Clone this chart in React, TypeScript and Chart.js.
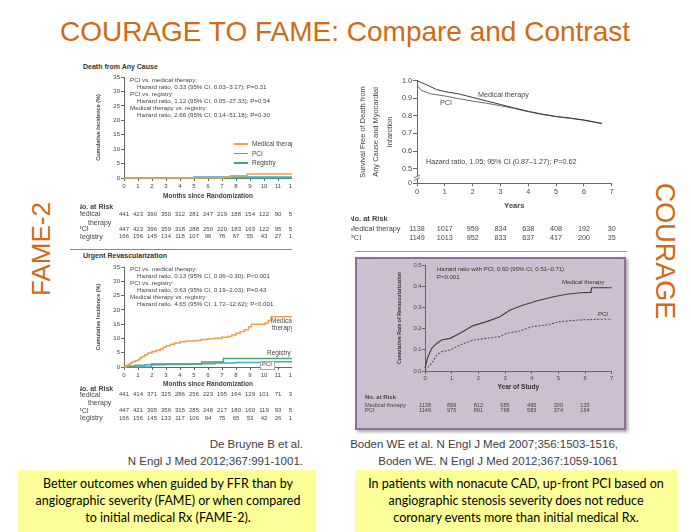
import React, { useEffect, useRef } from 'react';
import { Chart, registerables } from 'chart.js';

Chart.register(...registerables);

// ---------------- DATA ----------------
// FAME-2 shared
const famMonthTicks = [0, 1, 2, 3, 4, 5, 6, 7, 8, 9, 10, 11, 12];
const famPctTicks = [0, 5, 10, 15, 20, 25, 30, 35];

// FAME-2: Death from any cause (cumulative incidence, %)
const deathMedMonths = [0, 7.1, 7.6, 8.8, 12];
const deathMedPct = [0, 0.35, 0.8, 1.35, 1.35];
const deathPciMonths = [0, 5.0, 12];
const deathPciPct = [0, 0.35, 0.35];
const deathRegMonths = [0, 12];
const deathRegPct = [0, 0];
const deathRiskMed = [441, 423, 390, 350, 312, 281, 247, 219, 188, 154, 122, 90, 54];
const deathRiskPci = [447, 423, 396, 359, 318, 288, 250, 220, 183, 163, 122, 95, 54];
const deathRiskReg = [166, 156, 145, 134, 118, 107, 96, 76, 67, 55, 43, 27, 13];

// FAME-2: Urgent revascularization (cumulative incidence, %)
const revMedMonths = [0, 0.15, 0.3, 0.45, 0.6, 0.8, 1.0, 1.15, 1.3, 1.5, 1.7, 2.0, 2.3, 2.6, 2.8, 3.0, 3.3, 3.6, 4.0, 4.4, 5.0, 5.5, 6.0, 6.5, 7.0, 7.4, 7.7, 8.0, 8.3, 8.6, 8.9, 9.1, 10.1, 10.3, 10.5, 12];
const revMedPct = [0, 0.5, 1.0, 1.4, 1.8, 2.2, 2.6, 3.2, 3.7, 4.3, 4.9, 5.4, 5.9, 6.3, 6.9, 7.4, 8.0, 8.4, 8.8, 9.1, 9.3, 9.6, 9.9, 10.1, 10.4, 10.7, 11.2, 11.8, 12.4, 13.0, 14.1, 15.0, 15.4, 16.3, 17.6, 17.6];
const revPciMonths = [0, 0.3, 0.8, 1.5, 3.0, 5.0, 6.5, 8.0, 10.0, 12];
const revPciPct = [0, 0.35, 0.6, 0.8, 1.0, 1.1, 1.4, 1.6, 1.8, 1.8];
const revRegMonths = [0, 1.97, 5.55, 7.1, 12];
const revRegPct = [0, 1.05, 1.75, 3.0, 3.0];
const revRiskMed = [441, 414, 371, 325, 286, 256, 223, 195, 164, 129, 101, 71, 38];
const revRiskPci = [447, 421, 395, 356, 315, 285, 248, 217, 180, 160, 119, 93, 53];
const revRiskReg = [166, 156, 145, 133, 117, 106, 94, 75, 65, 53, 42, 26, 12];

// COURAGE: survival free of death and MI
const survYearTicks = [0, 1, 2, 3, 4, 5, 6, 7];
const survYTickValues = [0.417, 0.5, 0.6, 0.7, 0.8, 0.9, 1.0];
const survYTickLabels = ['0', '0.5', '0.6', '0.7', '0.8', '0.9', '1.0'];
const survMedYears = [0, 0.3, 0.7, 1, 1.5, 2, 2.5, 3, 3.5, 4, 4.5, 5, 5.5, 6, 6.4, 6.65];
const survMedFree = [1.0, 0.98, 0.95, 0.938, 0.925, 0.905, 0.885, 0.865, 0.845, 0.826, 0.81, 0.797, 0.788, 0.777, 0.765, 0.758];
const survPciYears = [0, 0.15, 0.5, 1, 1.5, 2, 2.5, 3, 3.5, 4, 4.5, 5, 5.5, 6, 6.4, 6.65];
const survPciFree = [0.975, 0.945, 0.925, 0.913, 0.898, 0.884, 0.872, 0.858, 0.842, 0.824, 0.808, 0.796, 0.786, 0.775, 0.763, 0.755];
const survRiskMed = [1138, 1017, 959, 834, 638, 408, 192, 30];
const survRiskPci = [1149, 1013, 952, 833, 637, 417, 200, 35];

// COURAGE: cumulative rate of revascularization
const revcYearTicks = [0, 1, 2, 3, 4, 5, 6, 7];
const revcYTicks = [0, 0.1, 0.2, 0.3, 0.4, 0.5];
const revcMedYears = [0, 0.09, 0.25, 0.44, 0.62, 0.94, 1.31, 1.81, 2.31, 2.81, 3.19, 3.69, 4.19, 4.81, 5.31, 5.81, 6.22, 6.25, 7.0];
const revcMedRate = [0.013, 0.06, 0.107, 0.13, 0.146, 0.154, 0.178, 0.214, 0.233, 0.256, 0.288, 0.311, 0.33, 0.35, 0.362, 0.369, 0.371, 0.393, 0.393];
const revcPciYears = [0, 0.25, 0.44, 0.62, 0.94, 1.31, 1.81, 2.31, 2.81, 3.06, 3.56, 4.0, 4.56, 5.06, 5.81, 6.56, 7.0];
const revcPciRate = [0.005, 0.036, 0.075, 0.091, 0.099, 0.123, 0.146, 0.154, 0.162, 0.178, 0.189, 0.209, 0.217, 0.233, 0.241, 0.244, 0.244];
const revcRiskYears = [0, 1, 2, 3, 4, 5, 6];
const revcRiskMed = [1138, 899, 812, 685, 495, 300, 135];
const revcRiskPci = [1149, 975, 891, 768, 583, 374, 164];

// ---------------- STYLE ----------------
const FONT = "'Liberation Sans', Arial, sans-serif";
const BOX_FONT = "Lato, 'Open Sans', sans-serif";
const TITLE_ORANGE = '#D06A14';
const MED = '#F0A04A';
const PCI = '#4AA3D6';
const REG = '#3DAA72';
const AX = '#666';
const TXT = '#444';

const pts = (xs: number[], ys: number[]) => xs.map((x, i) => ({ x, y: ys[i] }));

const fix = (size: number, horiz: boolean) => (s: any) => {
  if (horiz) s.height = size;
  else s.width = size;
  s.paddingLeft = 0;
  s.paddingRight = 0;
  s.paddingTop = 0;
  s.paddingBottom = 0;
};

type Row = { label?: string; labelX?: number; y: number; bold?: boolean; size?: number; values?: number[] };

function riskTable(xs: number[], rows: Row[], numSize: number, labelSize: number, color: string) {
  return {
    id: 'riskTable',
    afterDraw(chart: any) {
      const ctx = chart.ctx;
      const sx = chart.scales.x;
      ctx.save();
      ctx.fillStyle = color;
      ctx.textBaseline = 'middle';
      rows.forEach((r) => {
        if (r.label) {
          ctx.font = `${r.bold ? 'bold ' : ''}${r.size ?? labelSize}px ${FONT}`;
          ctx.textAlign = 'left';
          ctx.fillText(r.label, r.labelX ?? 0, r.y);
        }
        if (r.values) {
          ctx.font = `${numSize}px ${FONT}`;
          ctx.textAlign = 'center';
          r.values.forEach((v, i) => ctx.fillText(String(v), sx.getPixelForValue(xs[i]), r.y));
        }
      });
      ctx.restore();
    },
  };
}

const axisBreak = (value: number, bg: string, color: string) => ({
  id: 'axisBreak',
  afterDraw(chart: any) {
    const ctx = chart.ctx;
    const x = chart.chartArea.left;
    const y = chart.scales.y.getPixelForValue(value);
    ctx.save();
    ctx.fillStyle = bg;
    ctx.fillRect(x - 3, y - 1.5, 6, 3);
    ctx.strokeStyle = color;
    ctx.lineWidth = 0.9;
    ctx.beginPath();
    ctx.moveTo(x - 3, y + 0.5);
    ctx.lineTo(x + 3, y - 2.5);
    ctx.moveTo(x - 3, y + 3);
    ctx.lineTo(x + 3, y);
    ctx.stroke();
    ctx.restore();
  },
});

const lineDs = (data: any[], color: string, width: number, stepped: boolean, dash: number[] = []) => ({
  data,
  borderColor: color,
  borderWidth: width,
  borderDash: dash,
  pointRadius: 0,
  stepped,
  tension: 0,
  fill: false,
  clip: 3,
});

const gridOpts = (tl: number) => ({ drawOnChartArea: false, drawTicks: true, tickLength: tl, color: AX, lineWidth: 1 });
const borderOpts = { display: true, color: AX, width: 1 };

function famScales(xH: number, yW: number, yTitlePad: number) {
  return {
    x: {
      type: 'linear',
      min: 0,
      max: 12,
      afterFit: fix(xH, true),
      afterBuildTicks: (s: any) => {
        s.ticks = famMonthTicks.map((v) => ({ value: v }));
      },
      ticks: { color: TXT, font: { size: 6, family: FONT }, padding: 1.5, maxRotation: 0, minRotation: 0, autoSkip: false },
      grid: gridOpts(3),
      border: borderOpts,
      title: { display: true, text: 'Months since Randomization', color: TXT, font: { size: 6.5, weight: 'bold', family: FONT }, padding: { top: 0, bottom: 0 } },
    },
    y: {
      type: 'linear',
      min: 0,
      max: 35,
      afterFit: fix(yW, false),
      afterBuildTicks: (s: any) => {
        s.ticks = famPctTicks.map((v) => ({ value: v }));
      },
      ticks: { color: TXT, font: { size: 6, family: FONT }, padding: 1 },
      grid: gridOpts(3),
      border: borderOpts,
      title: { display: true, text: 'Cumulative Incidence (%)', color: TXT, font: { size: 5.5, weight: 'bold', family: FONT }, padding: { top: yTitlePad, bottom: 0 } },
    },
  };
}

const baseOpts = {
  animation: false,
  responsive: false,
  maintainAspectRatio: false,
  events: [],
  plugins: { legend: { display: false }, tooltip: { enabled: false }, title: { display: false } },
};

function deathConfig() {
  return {
    type: 'line',
    data: {
      datasets: [
        lineDs(pts(deathMedMonths, deathMedPct), MED, 1.5, true),
        lineDs(pts(deathPciMonths, deathPciPct), PCI, 1.5, true),
        lineDs(pts(deathRegMonths, deathRegPct), REG, 1.5, true),
      ],
    },
    options: {
      ...baseOpts,
      layout: { padding: { top: 7, right: 0, bottom: 42, left: 0 } },
      scales: famScales(22, 44, 14.7),
    },
    plugins: [
      riskTable(famMonthTicks, [
        { label: 'No. at Risk', bold: true, y: 137, labelX: -3 },
        { label: 'Medical', y: 144.3, labelX: -4, values: deathRiskMed },
        { label: 'therapy', y: 152.7, labelX: 8 },
        { label: 'PCI', y: 159.3, labelX: -3, values: deathRiskPci },
        { label: 'Registry', y: 166.7, labelX: -3, values: deathRiskReg },
      ], 6, 7, TXT),
    ],
  };
}

function revConfig() {
  return {
    type: 'line',
    data: {
      datasets: [
        lineDs(pts(revMedMonths, revMedPct), MED, 1.5, true),
        lineDs(pts(revRegMonths, revRegPct), REG, 1.5, true),
        lineDs(pts(revPciMonths, revPciPct), PCI, 1.5, true),
      ],
    },
    options: {
      ...baseOpts,
      layout: { padding: { top: 7, right: 0, bottom: 37, left: 0 } },
      scales: famScales(21, 44, 14.7),
    },
    plugins: [
      riskTable(famMonthTicks, [
        { label: 'No. at Risk', bold: true, y: 129.3, labelX: -3 },
        { label: 'Medical', y: 134.8, labelX: -4, values: revRiskMed },
        { label: 'therapy', y: 143, labelX: 8 },
        { label: 'PCI', y: 150.7, labelX: -3, values: revRiskPci },
        { label: 'Registry', y: 158.3, labelX: -3, values: revRiskReg },
      ], 6, 7, TXT),
    ],
  };
}

function survConfig() {
  return {
    type: 'line',
    data: {
      datasets: [
        lineDs(pts(survMedYears, survMedFree), '#3a3a3a', 1, false),
        lineDs(pts(survPciYears, survPciFree), '#6a6a6a', 1, false),
      ],
    },
    options: {
      ...baseOpts,
      layout: { padding: { top: 10.7, right: 13.3, bottom: 34.7, left: 0 } },
      scales: {
        x: {
          type: 'linear',
          min: 0,
          max: 7,
          afterFit: fix(27, true),
          afterBuildTicks: (s: any) => {
            s.ticks = survYearTicks.map((v) => ({ value: v }));
          },
          ticks: { color: TXT, font: { size: 7.2, family: FONT }, padding: 1.2, maxRotation: 0, minRotation: 0, autoSkip: false },
          grid: gridOpts(3),
          border: borderOpts,
          title: { display: true, text: 'Years', color: TXT, font: { size: 7.5, weight: 'bold', family: FONT }, padding: { top: 0, bottom: 0 } },
        },
        y: {
          type: 'linear',
          min: 0.417,
          max: 1.0,
          afterFit: fix(66, false),
          afterBuildTicks: (s: any) => {
            s.ticks = survYTickValues.map((v) => ({ value: v }));
          },
          ticks: {
            color: TXT,
            font: { size: 7.2, family: FONT },
            padding: 1,
            callback: (_v: any, i: number) => survYTickLabels[i],
          },
          grid: gridOpts(4),
          border: borderOpts,
          title: {
            display: true,
            text: ['Survival Free of Death from', 'Any Cause and Myocardial', 'Infarction'],
            color: TXT,
            font: { size: 7.5, family: FONT, lineHeight: 1.77 },
            padding: { top: 5.4, bottom: 0 },
          },
        },
      },
    },
    plugins: [
      axisBreak(0.45, '#ffffff', AX),
      riskTable(survYearTicks, [
        { label: 'No. at Risk', bold: true, y: 149, labelX: -2, size: 7.5 },
        { label: 'Medical therapy', y: 159, labelX: -2, values: survRiskMed },
        { label: 'PCI', y: 168, labelX: -2, values: survRiskPci },
      ], 7.2, 7.3, TXT),
    ],
  };
}

function revcConfig() {
  return {
    type: 'line',
    data: {
      datasets: [
        lineDs(pts(revcMedYears, revcMedRate), '#3d3d3d', 1.1, false),
        lineDs(pts(revcPciYears, revcPciRate), '#555555', 1.1, false, [2, 1.5]),
      ],
    },
    options: {
      ...baseOpts,
      layout: { padding: { top: 6, right: 10.3, bottom: 24, left: 0 } },
      scales: {
        x: {
          type: 'linear',
          min: 0,
          max: 7,
          afterFit: fix(20, true),
          afterBuildTicks: (s: any) => {
            s.ticks = revcYearTicks.map((v) => ({ value: v }));
          },
          ticks: { color: TXT, font: { size: 5.8, family: FONT }, padding: 0.8, maxRotation: 0, minRotation: 0, autoSkip: false },
          grid: gridOpts(3),
          border: borderOpts,
          title: { display: true, text: 'Year of Study', color: '#333', font: { size: 6.5, weight: 'bold', family: FONT }, padding: { top: 0, bottom: 0 } },
        },
        y: {
          type: 'linear',
          min: 0,
          max: 0.5,
          afterFit: fix(65, false),
          afterBuildTicks: (s: any) => {
            s.ticks = revcYTicks.map((v) => ({ value: v }));
          },
          ticks: { color: TXT, font: { size: 5.8, family: FONT }, padding: 0.5, callback: (v: any) => Number(v).toFixed(1) },
          grid: gridOpts(3),
          border: borderOpts,
          title: { display: true, text: 'Cumulative Rate of Revascularization', color: '#333', font: { size: 5.2, weight: 'bold', family: FONT }, padding: { top: 36.9, bottom: 0 } },
        },
      },
    },
    plugins: [
      riskTable(revcRiskYears, [
        { label: 'No. at Risk', bold: true, y: 138.7, labelX: 5, size: 6 },
        { label: 'Medical therapy', y: 146, labelX: 5, values: revcRiskMed },
        { label: 'PCI', y: 151.7, labelX: 5, values: revcRiskPci },
      ], 5.6, 5.8, TXT),
    ],
  };
}

// ---------------- COMPONENTS ----------------
function ChartCanvas({ left, top, width, height, make }: { left: number; top: number; width: number; height: number; make: () => any }) {
  const ref = useRef<HTMLCanvasElement>(null);
  useEffect(() => {
    if (!ref.current) return;
    const chart = new Chart(ref.current, make());
    return () => chart.destroy();
  }, []);
  return <canvas ref={ref} width={width} height={height} style={{ position: 'absolute', left, top, width, height, display: 'block' }} />;
}

type TxtProps = { x: number; y: number; s: number; text: string; bold?: boolean; color?: string; anchor?: 'start' | 'middle' | 'end'; family?: string; bg?: string };
function Txt({ x, y, s, text, bold, color = TXT, anchor = 'start', family = FONT, bg }: TxtProps) {
  const tx = anchor === 'middle' ? '-50%' : anchor === 'end' ? '-100%' : '0';
  return (
    <div
      style={{
        position: 'absolute',
        left: x,
        top: y - s * 0.6,
        fontSize: s,
        lineHeight: `${s * 1.2}px`,
        fontWeight: bold ? 700 : 400,
        color,
        fontFamily: family,
        whiteSpace: 'nowrap',
        transform: `translateX(${tx})`,
        background: bg,
      }}
    >
      {text}
    </div>
  );
}

function VText({ cx, cy, s, text, deg }: { cx: number; cy: number; s: number; text: string; deg: number }) {
  return (
    <div
      style={{
        position: 'absolute',
        left: cx,
        top: cy,
        fontSize: s,
        lineHeight: `${s}px`,
        fontFamily: FONT,
        color: TITLE_ORANGE,
        whiteSpace: 'nowrap',
        transform: `translate(-50%, -50%) rotate(${deg}deg)`,
      }}
    >
      {text}
    </div>
  );
}

function LegendLine({ x, y, color }: { x: number; y: number; color: string }) {
  return <div style={{ position: 'absolute', left: x, top: y - 0.75, width: 14, height: 1.5, background: color }} />;
}

export default function App() {
  return (
    <div style={{ position: 'absolute', left: 0, top: 0, width: 691, height: 532, background: '#ffffff', overflow: 'hidden', fontFamily: FONT }}>
      {/* Title */}
      <Txt x={345} y={32} s={28} text="COURAGE TO FAME: Compare and Contrast" color={TITLE_ORANGE} anchor="middle" />
      <VText cx={41} cy={249} s={26} text="FAME-2" deg={-90} />
      <VText cx={664} cy={251} s={27} text="COURAGE" deg={90} />

      {/* Left panel (FAME-2) */}
      <div style={{ position: 'absolute', left: 0, top: 0, width: 292, height: 532, overflow: 'hidden' }}>
        <Txt x={83} y={67} s={7} bold text="Death from Any Cause" color="#333" />
        <ChartCanvas left={80} top={70} width={212} height={172} make={deathConfig} />
        <Txt x={130} y={80} s={6.2} text="PCI vs. medical therapy:" />
        <Txt x={137} y={87} s={6.2} text="Hazard ratio, 0.33 (95% CI, 0.03–3.17); P=0.31" />
        <Txt x={130} y={94} s={6.2} text="PCI vs. registry:" />
        <Txt x={137} y={101} s={6.2} text="Hazard ratio, 1.12 (95% CI, 0.05–27.33); P=0.54" />
        <Txt x={130} y={108} s={6.2} text="Medical therapy vs. registry:" />
        <Txt x={137} y={115} s={6.2} text="Hazard ratio, 2.66 (95% CI, 0.14–51.18); P=0.30" />
        <LegendLine x={234} y={144} color={MED} />
        <LegendLine x={234} y={153.5} color={PCI} />
        <LegendLine x={234} y={163} color={REG} />
        <Txt x={252} y={144.3} s={6.5} text="Medical therapy" />
        <Txt x={252} y={153.7} s={6.5} text="PCI" />
        <Txt x={252} y={163} s={6.5} text="Registry" />

        <div style={{ position: 'absolute', left: 70, top: 249, width: 222, height: 1, background: '#888' }} />

        <Txt x={83} y={256} s={7} bold text="Urgent Revascularization" color="#333" />
        <ChartCanvas left={80} top={260} width={212} height={165} make={revConfig} />
        <Txt x={130} y={269} s={6.2} text="PCI vs. medical therapy:" />
        <Txt x={137} y={276} s={6.2} text="Hazard ratio, 0.13 (95% CI, 0.06–0.30); P<0.001" />
        <Txt x={130} y={283} s={6.2} text="PCI vs. registry:" />
        <Txt x={137} y={290} s={6.2} text="Hazard ratio, 0.63 (95% CI, 0.19–2.03); P=0.43" />
        <Txt x={130} y={297} s={6.2} text="Medical therapy vs. registry:" />
        <Txt x={137} y={304} s={6.2} text="Hazard ratio, 4.65 (95% CI, 1.72–12.62); P<0.001" />
        <Txt x={271} y={321} s={6.5} text="Medical" />
        <Txt x={272} y={328} s={6.5} text="therapy" />
        <Txt x={267} y={353} s={6.5} text="Registry" bg="#ffffff" />
        <div style={{ position: 'absolute', left: 260, top: 360.5, width: 13, height: 7, background: '#ffffff', border: '0.5px solid #aaa' }} />
        <Txt x={262} y={364.3} s={6} text="PCI" />
      </div>

      {/* Right top panel (COURAGE survival) */}
      <ChartCanvas left={351} top={70} width={274} height={175} make={survConfig} />
      <Txt x={478} y={95.7} s={7.2} text="Medical therapy" />
      <Txt x={440} y={103} s={7.2} text="PCI" />
      <Txt x={426} y={162.7} s={7.2} text="Hazard ratio, 1.05; 95% CI (0.87–1.27); P=0.62" />
      <div style={{ position: 'absolute', left: 355, top: 251, width: 272, height: 1, background: '#999' }} />

      {/* Right bottom panel (COURAGE revascularization) */}
      <div
        style={{
          position: 'absolute',
          left: 355,
          top: 257,
          width: 267,
          height: 169,
          background: '#CBC0CF',
          border: '2px solid #8F6C99',
          boxShadow: '2px 2px 3px rgba(0,0,0,0.35)',
        }}
      />
      <ChartCanvas left={360} top={259} width={262} height={156} make={revcConfig} />
      <Txt x={437} y={270} s={6} text="Hazard ratio with PCI, 0.60 (95% CI, 0.51–0.71)" color="#333" />
      <Txt x={437} y={277.7} s={6} text="P<0.001" color="#333" />
      <Txt x={562} y={283} s={6} text="Medical therapy" color="#333" />
      <Txt x={598} y={315} s={6} text="PCI" color="#333" />

      {/* Citations */}
      <Txt x={303} y={445} s={11.5} text="De Bruyne B et al." color="#404040" anchor="end" />
      <Txt x={303} y={462} s={11.5} text="N Engl J Med 2012;367:991-1001." color="#404040" anchor="end" />
      <Txt x={618} y={445} s={11.5} text="Boden WE et al. N Engl J Med 2007;356:1503-1516," color="#404040" anchor="end" />
      <Txt x={618} y={462} s={11.5} text="Boden WE. N Engl J Med 2012;367:1059-1061" color="#404040" anchor="end" />

      {/* Yellow boxes */}
      <div style={{ position: 'absolute', left: 18, top: 470, width: 298, height: 62, background: '#FFFF99' }} />
      <div style={{ position: 'absolute', left: 355, top: 470, width: 322, height: 62, background: '#FFFF99' }} />
      <Txt x={168} y={483} s={12.5} family={BOX_FONT} color="#000" anchor="middle" text="Better outcomes when guided by FFR than by" />
      <Txt x={168} y={500} s={12.5} family={BOX_FONT} color="#000" anchor="middle" text="angiographic severity (FAME) or when compared" />
      <Txt x={168} y={517} s={12.5} family={BOX_FONT} color="#000" anchor="middle" text="to initial medical Rx (FAME-2)." />
      <Txt x={516} y={483} s={12.5} family={BOX_FONT} color="#000" anchor="middle" text="In patients with nonacute CAD, up-front PCI based on" />
      <Txt x={516} y={500} s={12.5} family={BOX_FONT} color="#000" anchor="middle" text="angiographic stenosis severity does not reduce" />
      <Txt x={516} y={517} s={12.5} family={BOX_FONT} color="#000" anchor="middle" text="coronary events more than initial medical Rx." />
    </div>
  );
}
